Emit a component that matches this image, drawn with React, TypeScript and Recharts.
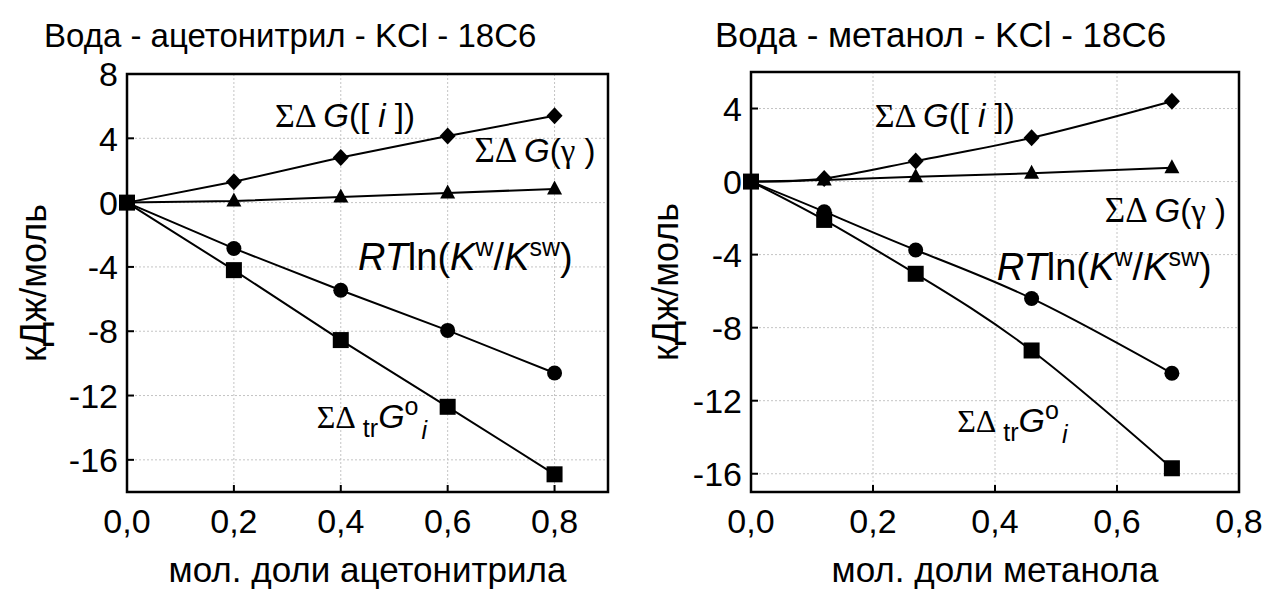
import React from 'react';
import {
  LineChart,
  Line,
  XAxis,
  YAxis,
  CartesianGrid,
  ReferenceDot,
  ReferenceArea,
} from 'recharts';

const SANS = '"Liberation Sans", Arial, sans-serif';
const SERIF = '"Liberation Serif", "Times New Roman", serif';

// Вода - ацетонитрил - KCl - 18C6
const acnX = [0, 0.2, 0.4, 0.6, 0.8];
const acnGi = [0, 1.3, 2.8, 4.15, 5.4];
const acnGamma = [0, 0.1, 0.35, 0.6, 0.85];
const acnRT = [0, -2.85, -5.45, -7.95, -10.6];
const acnTr = [0, -4.2, -8.55, -12.7, -16.9];
const acnXTicks = [0, 0.2, 0.4, 0.6, 0.8];
const acnYTicks = [-16, -12, -8, -4, 0, 4, 8];

// Вода - метанол - KCl - 18C6
const meX = [0, 0.12, 0.27, 0.46, 0.69];
const meGi = [0, 0.17, 1.12, 2.4, 4.4];
const meGamma = [0, 0.08, 0.26, 0.45, 0.75];
const meRT = [0, -1.65, -3.75, -6.4, -10.5];
const meTr = [0, -2.1, -5.05, -9.25, -15.7];
const meXTicks = [0, 0.2, 0.4, 0.6, 0.8];
const meYTicks = [-16, -12, -8, -4, 0, 4];

// annotation anchors (data coords, text start / baseline)
const acnNotes = [
  { kind: 'gi', x: 0.277, y: 4.68 },
  { kind: 'gamma', x: 0.65, y: 2.5 },
  { kind: 'rt', x: 0.432, y: -4.2 },
  { kind: 'tr', x: 0.355, y: -14.05 },
];
const meNotes = [
  { kind: 'gi', x: 0.203, y: 2.98 },
  { kind: 'gamma', x: 0.58, y: -2.2 },
  { kind: 'rt', x: 0.403, y: -5.38 },
  { kind: 'tr', x: 0.338, y: -13.74 },
];

const fmtX = (v: number) => v.toFixed(1).replace('.', ',');

const Square = ({ cx, cy }: any) => (
  <rect x={cx - 8} y={cy - 8} width={16} height={16} fill="#000" />
);
const Dot = ({ cx, cy }: any) => <circle cx={cx} cy={cy} r={7.5} fill="#000" />;
const Diamond = ({ cx, cy }: any) => (
  <polygon
    points={`${cx},${cy - 8.5} ${cx + 8},${cy} ${cx},${cy + 8.5} ${cx - 8},${cy}`}
    fill="#000"
  />
);
const Tri = ({ cx, cy }: any) => (
  <polygon
    points={`${cx},${cy - 8.5} ${cx + 7.5},${cy + 5.5} ${cx - 7.5},${cy + 5.5}`}
    fill="#000"
  />
);

const Note = ({ cx, cy, kind }: any) => {
  if (kind === 'gi') {
    return (
      <text x={cx} y={cy} fontSize={33} fontFamily={SANS} fill="#000">
        <tspan fontFamily={SERIF} fontSize={34}>ΣΔ </tspan>
        <tspan fontStyle="italic">G</tspan>([ <tspan fontStyle="italic">i</tspan> ])
      </text>
    );
  }
  if (kind === 'gamma') {
    return (
      <text x={cx} y={cy} fontSize={33} fontFamily={SANS} fill="#000">
        <tspan fontFamily={SERIF} fontSize={35}>ΣΔ </tspan>
        <tspan fontStyle="italic">G</tspan>(<tspan fontFamily={SERIF}>γ</tspan> )
      </text>
    );
  }
  if (kind === 'rt') {
    return (
      <text x={cx} y={cy} fontSize={38} fontFamily={SANS} fill="#000">
        <tspan fontStyle="italic">RT</tspan>ln(<tspan fontStyle="italic">K</tspan>
        <tspan dy={-14} fontSize={25}>w</tspan>
        <tspan dy={14}>/</tspan>
        <tspan fontStyle="italic">K</tspan>
        <tspan dy={-14} fontSize={25}>sw</tspan>
        <tspan dy={14}>)</tspan>
      </text>
    );
  }
  return (
    <text x={cx} y={cy} fontSize={34} fontFamily={SANS} fill="#000">
      <tspan fontFamily={SERIF} fontSize={32}>ΣΔ</tspan>
      <tspan dy={9} fontSize={25}> tr</tspan>
      <tspan dy={-9} fontStyle="italic">G</tspan>
      <tspan dy={-13} fontSize={25}>o</tspan>
      <tspan dy={24} dx={3} fontSize={25} fontStyle="italic">i</tspan>
    </text>
  );
};

const XTick = ({ x, y, payload }: any) => (
  <g>
    <line x1={x} x2={x} y1={y} y2={y - 7} stroke="#000" strokeWidth={2} />
    <text x={x} y={y + 41} textAnchor="middle" fontSize={34} fontFamily={SANS} fill="#000">
      {fmtX(payload.value)}
    </text>
  </g>
);

const YTick = ({ x, y, payload }: any) => (
  <g>
    <line x1={x} x2={x + 7} y1={y} y2={y} stroke="#000" strokeWidth={2} />
    <text x={x - 9} y={y + 12.2} textAnchor="end" fontSize={34} fontFamily={SANS} fill="#000">
      {String(payload.value)}
    </text>
  </g>
);

function Panel({
  title,
  titleLeft,
  titleSize,
  xLabel,
  xs,
  gi,
  gamma,
  rt,
  tr,
  xDomain,
  xTicks,
  yDomain,
  yTicks,
  curve,
  margin,
  yWidth,
  notes,
}: any) {
  const data = xs.map((x: number, i: number) => ({
    x,
    gi: gi[i],
    gamma: gamma[i],
    rt: rt[i],
    tr: tr[i],
  }));

  return (
    <div style={{ position: 'relative', width: 632, height: 592 }}>
      <div
        style={{
          position: 'absolute',
          left: titleLeft,
          top: 47 - Math.round(titleSize * 0.85),
          fontFamily: SANS,
          fontSize: titleSize,
          lineHeight: `${titleSize}px`,
          whiteSpace: 'nowrap',
          color: '#000',
        }}
      >
        {title}
      </div>
      <LineChart width={632} height={592} data={data} margin={margin}>
        <CartesianGrid stroke="#c4c4c4" strokeDasharray="2 2" strokeWidth={1} />
        <XAxis
          dataKey="x"
          type="number"
          domain={xDomain}
          ticks={xTicks}
          height={100}
          tickSize={0}
          tickMargin={0}
          axisLine={false}
          tickLine={false}
          tick={<XTick />}
          interval={0}
          label={{
            content: ({ viewBox }: any) => (
              <text
                x={viewBox.x + viewBox.width / 2}
                y={viewBox.y + 90}
                textAnchor="middle"
                fontSize={35}
                fontFamily={SANS}
                fill="#000"
              >
                {xLabel}
              </text>
            ),
          }}
        />
        <YAxis
          type="number"
          domain={yDomain}
          ticks={yTicks}
          width={yWidth}
          tickSize={0}
          tickMargin={0}
          axisLine={false}
          tickLine={false}
          tick={<YTick />}
          interval={0}
          allowDataOverflow
          label={{
            content: ({ viewBox }: any) => {
              const cx = viewBox.x + 46;
              const cy = viewBox.y + viewBox.height / 2;
              return (
                <text
                  x={cx}
                  y={cy}
                  transform={`rotate(-90 ${cx} ${cy})`}
                  textAnchor="middle"
                  fontSize={36}
                  fontFamily={SANS}
                  fill="#000"
                >
                  кДж/моль
                </text>
              );
            },
          }}
        />
        <ReferenceArea
          x1={xDomain[0]}
          x2={xDomain[1]}
          y1={yDomain[0]}
          y2={yDomain[1]}
          fill="none"
          stroke="#000"
          strokeWidth={2.5}
        />
        <Line
          type={curve}
          dataKey="gamma"
          stroke="#000"
          strokeWidth={2}
          isAnimationActive={false}
          dot={(p: any) => <Tri key={p.index} cx={p.cx} cy={p.cy} />}
        />
        <Line
          type={curve}
          dataKey="gi"
          stroke="#000"
          strokeWidth={2}
          isAnimationActive={false}
          dot={(p: any) => <Diamond key={p.index} cx={p.cx} cy={p.cy} />}
        />
        <Line
          type={curve}
          dataKey="rt"
          stroke="#000"
          strokeWidth={2}
          isAnimationActive={false}
          dot={(p: any) => <Dot key={p.index} cx={p.cx} cy={p.cy} />}
        />
        <Line
          type={curve}
          dataKey="tr"
          stroke="#000"
          strokeWidth={2}
          isAnimationActive={false}
          dot={(p: any) => <Square key={p.index} cx={p.cx} cy={p.cy} />}
        />
        {notes.map((n: any) => (
          <ReferenceDot
            key={n.kind}
            x={n.x}
            y={n.y}
            r={0}
            ifOverflow="visible"
            shape={(p: any) => <Note cx={p.cx} cy={p.cy} kind={n.kind} />}
          />
        ))}
      </LineChart>
    </div>
  );
}

export default function App() {
  return (
    <div
      style={{
        position: 'absolute',
        left: 0,
        top: 0,
        width: 1264,
        height: 592,
        display: 'flex',
        background: '#fff',
      }}
    >
      <Panel
        title="Вода - ацетонитрил - KCl - 18C6"
        titleLeft={44}
        titleSize={33}
        xLabel="мол. доли ацетонитрила"
        xs={acnX}
        gi={acnGi}
        gamma={acnGamma}
        rt={acnRT}
        tr={acnTr}
        xDomain={[0, 0.9]}
        xTicks={acnXTicks}
        yDomain={[-18, 8]}
        yTicks={acnYTicks}
        curve="linear"
        margin={{ top: 74, right: 24, bottom: 0, left: 0 }}
        yWidth={127}
        notes={acnNotes}
      />
      <Panel
        title="Вода - метанол - KCl - 18C6"
        titleLeft={83}
        titleSize={35}
        xLabel="мол. доли метанола"
        xs={meX}
        gi={meGi}
        gamma={meGamma}
        rt={meRT}
        tr={meTr}
        xDomain={[0, 0.8]}
        xTicks={meXTicks}
        yDomain={[-17, 6]}
        yTicks={meYTicks}
        curve="natural"
        margin={{ top: 72, right: 25, bottom: 0, left: 0 }}
        yWidth={119}
        notes={meNotes}
      />
    </div>
  );
}
